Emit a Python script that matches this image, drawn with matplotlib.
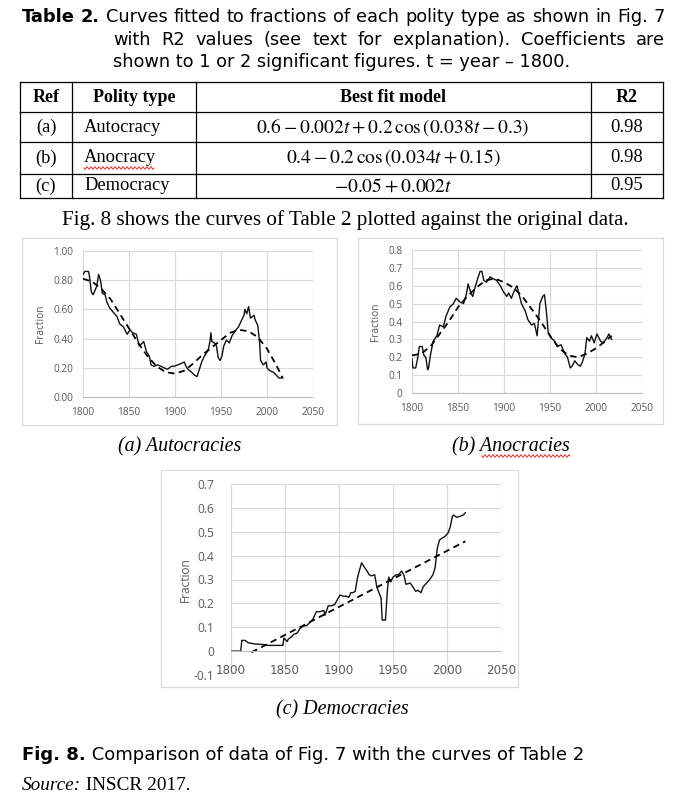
import matplotlib
matplotlib.use("Agg")
import matplotlib.pyplot as plt
from matplotlib.lines import Line2D
from matplotlib.patches import Rectangle
import numpy as np

plt.rcParams['mathtext.fontset'] = 'stix'

W, H = 693, 806

# (a) Autocracies: data and fitted curve
auto_years = [1800, 1802, 1806, 1807, 1809, 1811, 1813, 1815, 1817, 1819, 1821, 1824, 1826, 1829, 1833,
              1837, 1840, 1844, 1848, 1851, 1854, 1858, 1861, 1863, 1866, 1869, 1872, 1874, 1877, 1881,
              1885, 1888, 1892, 1896, 1899, 1903, 1907, 1910, 1912, 1914, 1918, 1921, 1924, 1927, 1929,
              1932, 1936, 1938, 1939, 1940, 1943, 1945, 1947, 1949, 1951, 1953, 1956, 1959, 1962, 1965,
              1969, 1972, 1975, 1976, 1978, 1980, 1982, 1984, 1986, 1987, 1990, 1992, 1993, 1996, 1999,
              2000, 2003, 2007, 2010, 2013, 2017]
auto_frac = [0.84, 0.86, 0.86, 0.83, 0.72, 0.70, 0.73, 0.76, 0.84, 0.80, 0.71, 0.70, 0.65, 0.61, 0.58,
             0.55, 0.50, 0.48, 0.43, 0.46, 0.44, 0.43, 0.35, 0.36, 0.38, 0.31, 0.28, 0.22, 0.21, 0.22,
             0.21, 0.20, 0.19, 0.21, 0.21, 0.22, 0.23, 0.24, 0.21, 0.19, 0.17, 0.15, 0.14, 0.20, 0.24,
             0.28, 0.32, 0.38, 0.44, 0.38, 0.37, 0.35, 0.27, 0.25, 0.28, 0.35, 0.39, 0.37, 0.42, 0.45,
             0.48, 0.52, 0.56, 0.60, 0.57, 0.62, 0.54, 0.55, 0.56, 0.53, 0.49, 0.37, 0.25, 0.22, 0.24,
             0.20, 0.18, 0.17, 0.15, 0.13, 0.13]
auto_fit_years = [1800, 1810, 1820, 1830, 1840, 1850, 1860, 1870, 1880, 1890, 1900, 1910,
                  1920, 1930, 1940, 1950, 1960, 1970, 1980, 1990, 2000, 2010, 2017]
auto_fit = [0.81, 0.79, 0.74, 0.67, 0.57, 0.47, 0.37, 0.28, 0.21, 0.17, 0.16, 0.18,
            0.23, 0.29, 0.34, 0.39, 0.44, 0.46, 0.45, 0.41, 0.33, 0.22, 0.13]

# (b) Anocracies
ano_years = [1800, 1801, 1804, 1806, 1808, 1811, 1813, 1815, 1817, 1818, 1820, 1823, 1827, 1830, 1834,
             1837, 1841, 1845, 1848, 1852, 1856, 1859, 1861, 1864, 1866, 1869, 1872, 1874, 1876, 1878,
             1881, 1885, 1888, 1892, 1896, 1899, 1903, 1905, 1908, 1911, 1914, 1916, 1919, 1923, 1926,
             1930, 1933, 1936, 1937, 1939, 1942, 1944, 1946, 1948, 1951, 1955, 1958, 1962, 1966, 1969,
             1972, 1974, 1977, 1980, 1983, 1985, 1988, 1990, 1993, 1995, 1998, 2001, 2005, 2008, 2012,
             2014, 2017]
ano_frac = [0.19, 0.14, 0.14, 0.19, 0.26, 0.26, 0.21, 0.20, 0.13, 0.14, 0.21, 0.29, 0.32, 0.38, 0.37,
            0.43, 0.48, 0.50, 0.53, 0.51, 0.50, 0.55, 0.61, 0.56, 0.54, 0.60, 0.65, 0.68, 0.68, 0.63,
            0.62, 0.65, 0.64, 0.63, 0.60, 0.57, 0.54, 0.56, 0.53, 0.57, 0.60, 0.56, 0.50, 0.46, 0.41,
            0.38, 0.39, 0.32, 0.38, 0.50, 0.54, 0.55, 0.46, 0.34, 0.31, 0.29, 0.26, 0.27, 0.22, 0.20,
            0.14, 0.15, 0.18, 0.16, 0.15, 0.17, 0.22, 0.31, 0.29, 0.32, 0.28, 0.33, 0.29, 0.28, 0.31,
            0.33, 0.30]
ano_fit_years = [1800, 1810, 1820, 1830, 1840, 1850, 1860, 1870, 1880, 1890, 1900, 1910,
                 1920, 1930, 1940, 1950, 1960, 1970, 1980, 1990, 2000, 2010, 2017]
ano_fit = [0.21, 0.22, 0.26, 0.33, 0.40, 0.48, 0.54, 0.59, 0.63, 0.64, 0.62, 0.59,
           0.54, 0.47, 0.40, 0.32, 0.25, 0.21, 0.20, 0.22, 0.25, 0.29, 0.32]

# (c) Democracies
demo_years = [1800, 1809, 1810, 1813, 1816, 1822, 1829, 1835, 1841, 1848, 1849, 1852, 1853, 1856, 1858,
              1861, 1864, 1867, 1870, 1873, 1876, 1879, 1882, 1886, 1887, 1890, 1893, 1896, 1899, 1901,
              1904, 1907, 1909, 1911, 1913, 1915, 1917, 1919, 1921, 1923, 1926, 1928, 1930, 1933, 1935,
              1937, 1939, 1940, 1943, 1945, 1946, 1948, 1950, 1953, 1955, 1958, 1960, 1962, 1966, 1969,
              1971, 1973, 1976, 1978, 1981, 1984, 1987, 1989, 1991, 1993, 1996, 1998, 2001, 2003, 2005,
              2006, 2009, 2012, 2015, 2017]
demo_frac = [0.0, 0.0, 0.045, 0.045, 0.035, 0.03, 0.028, 0.024, 0.024, 0.024, 0.055, 0.04, 0.05, 0.06, 0.07,
             0.075, 0.095, 0.105, 0.107, 0.12, 0.135, 0.165, 0.165, 0.17, 0.15, 0.19, 0.19, 0.195, 0.22, 0.235,
             0.23, 0.23, 0.225, 0.245, 0.245, 0.25, 0.305, 0.34, 0.37, 0.355, 0.335, 0.32, 0.315, 0.32, 0.27,
             0.245, 0.22, 0.13, 0.13, 0.265, 0.31, 0.29, 0.31, 0.32, 0.32, 0.335, 0.32, 0.28, 0.285, 0.265,
             0.25, 0.255, 0.245, 0.27, 0.285, 0.30, 0.32, 0.35, 0.43, 0.465, 0.475, 0.48, 0.495, 0.52, 0.565,
             0.57, 0.56, 0.565, 0.57, 0.58]
demo_fit_years = [1819, 2017]
demo_fit = [-0.005, 0.46]

# table contents
refs = ['(a)', '(b)', '(c)']
polity_types = ['Autocracy', 'Anocracy', 'Democracy']
models = [r'$0.6-0.002t+0.2\,\cos\left(0.038t-0.3\right)$',
          r'$0.4-0.2\,\cos\left(0.034t+0.15\right)$',
          r'$-0.05+0.002t$']
r2_values = ['0.98', '0.98', '0.95']

fig = plt.figure(figsize=(6.93, 8.06), dpi=100)
renderer = fig.canvas.get_renderer()

SANS = 'DejaVu Sans'
SERIF = 'Liberation Serif'
GRAY = '#595959'
GRID = '#d9d9d9'


def fx(x):
    return x / W


def fy(y):
    return 1 - y / H


def width_of(t):
    return t.get_window_extent(renderer).width


def runs(x, y, parts):
    # place several text pieces one after another on a line (pixel coords)
    items = [fig.text(0, fy(y), s, va='center', **kw) for s, kw in parts]
    for t in items:
        t.set_x(fx(x))
        x += width_of(t)
    return items


def justify(x0, x1, y, words):
    items = [fig.text(0, fy(y), s, va='center', **kw) for s, kw in words]
    widths = [width_of(t) for t in items]
    gap = (x1 - x0 - sum(widths)) / (len(items) - 1)
    x = x0
    for t, w in zip(items, widths):
        t.set_x(fx(x))
        x += w + gap


def line(x0, y0, x1, y1, **kw):
    fig.add_artist(Line2D([fx(x0), fx(x1)], [fy(y0), fy(y1)], transform=fig.transFigure, **kw))


def wavy(x0, x1, y):
    xs = np.arange(x0, x1 + 0.5, 1.0)
    ys = y + 1.3 * np.sin((xs - x0) * np.pi / 2)
    fig.add_artist(Line2D([fx(v) for v in xs], [fy(v) for v in ys], transform=fig.transFigure,
                          color='#e03030', lw=0.7))


# ---- table caption
cap = dict(family=SANS, fontsize=12.8)
capb = dict(family=SANS, fontsize=12.8, fontweight='bold')
line1 = [('Table', capb), ('2.', capb)] + [(w, cap) for w in
         'Curves fitted to fractions of each polity type as shown in Fig. 7'.split()]
justify(22, 665, 17, line1)
justify(113, 665, 40, [(w, cap) for w in
        'with R2 values (see text for explanation). Coefficients are'.split()])
fig.text(fx(113), fy(62), 'shown to 1 or 2 significant figures. t = year \u2013 1800.', va='center', **cap)

# ---- table
tx = [20, 72, 196, 591, 663]
ty = [82, 112, 142, 174, 198]
for y in ty:
    line(tx[0], y, tx[-1], y, color='black', lw=0.9)
for x in tx:
    line(x, ty[0], x, ty[-1], color='black', lw=0.9)

head = dict(family=SERIF, fontsize=13, fontweight='bold', ha='center', va='center')
cell = dict(family=SERIF, fontsize=13.3, va='center')
fig.text(fx(46), fy(97), 'Ref', **head)
fig.text(fx(134), fy(97), 'Polity type', **head)
fig.text(fx(393), fy(97), 'Best fit model', **head)
fig.text(fx(627), fy(97), 'R2', **head)
row_y = [127, 158, 186]
for i in range(3):
    fig.text(fx(46), fy(row_y[i]), refs[i], ha='center', **cell)
    fig.text(fx(84), fy(row_y[i]), polity_types[i], ha='left', **cell)
    fig.text(fx(393), fy(row_y[i]), models[i], ha='center', va='center', fontsize=14)
    fig.text(fx(627), fy(row_y[i]), r2_values[i], ha='center', **cell)
wavy(84, 154, 168)

fig.text(fx(345), fy(220), 'Fig. 8 shows the curves of Table 2 plotted against the original data.',
         ha='center', va='center', family=SERIF, fontsize=15.2)


# ---- charts
def chart(frame, plot, years, vals, fit_years, fit_vals, ylim, yticks, ylabels, size):
    x0, y0, x1, y1 = frame
    fig.add_artist(Rectangle((fx(x0), fy(y1)), fx(x1) - fx(x0), fy(y0) - fy(y1),
                             transform=fig.transFigure, fill=False, edgecolor=GRID, lw=0.9))
    px0, py0, px1, py1 = plot
    ax = fig.add_axes([fx(px0), fy(py1), fx(px1) - fx(px0), fy(py0) - fy(py1)])
    ax.plot(years, vals, color='#111111', lw=1.0)
    ax.plot(fit_years, fit_vals, color='black', lw=1.3, dashes=(3.5, 2.5))
    ax.set_xlim(1800, 2050)
    ax.set_xticks([1800, 1850, 1900, 1950, 2000, 2050])
    ax.set_ylim(*ylim)
    ax.set_yticks(yticks)
    ax.set_yticklabels(ylabels)
    ax.grid(True, color=GRID, lw=0.8)
    ax.set_axisbelow(True)
    for s in ['top', 'right', 'left']:
        ax.spines[s].set_visible(False)
    ax.spines['bottom'].set_color('#bfbfbf')
    ax.tick_params(length=0, labelsize=size, labelcolor=GRAY, pad=7)
    for lab in ax.get_xticklabels() + ax.get_yticklabels():
        lab.set_family('Open Sans')
    ax.set_ylabel('Fraction', fontsize=size, color=GRAY, family='Open Sans', labelpad=5)
    ax.set_facecolor('none')
    return ax


chart((22, 238, 337, 425), (83, 251, 313, 397), auto_years, auto_frac, auto_fit_years, auto_fit,
      (0, 1.0), [0, 0.2, 0.4, 0.6, 0.8, 1.0], ['0.00', '0.20', '0.40', '0.60', '0.80', '1.00'], 7.3)
chart((358, 238, 663, 424), (412, 250, 642, 393), ano_years, ano_frac, ano_fit_years, ano_fit,
      (0, 0.8), [0, 0.1, 0.2, 0.3, 0.4, 0.5, 0.6, 0.7, 0.8],
      ['0', '0.1', '0.2', '0.3', '0.4', '0.5', '0.6', '0.7', '0.8'], 7.3)
axc = chart((161, 470, 518, 687), (231, 484, 501, 675), demo_years, demo_frac, demo_fit_years, demo_fit,
            (-0.1, 0.7), [-0.1, 0, 0.1, 0.2, 0.3, 0.4, 0.5, 0.6, 0.7],
            ['-0.1', '0', '0.1', '0.2', '0.3', '0.4', '0.5', '0.6', '0.7'], 8.6)
axc.spines['bottom'].set_position(('data', 0))
axc.tick_params(axis='x', pad=9)
axc.tick_params(axis='y', pad=12)
axc.yaxis.labelpad = 1

# ---- captions
ital = dict(family=SERIF, fontsize=14.4, style='italic')
fig.text(fx(180), fy(447), '(a) Autocracies', ha='center', va='center', **ital)
fig.text(fx(511), fy(447), '(b) Anocracies', ha='center', va='center', **ital)
wavy(482, 570, 456)
fig.text(fx(342), fy(710), '(c) Democracies', ha='center', va='center', **ital)

runs(22, 755, [('Fig. 8.', dict(family=SANS, fontsize=13, fontweight='bold')),
               (' Comparison of data of Fig. 7 with the curves of Table 2', dict(family=SANS, fontsize=13))])
runs(22, 785, [('Source:', dict(family=SERIF, fontsize=13.9, style='italic')),
               (' INSCR 2017.', dict(family=SERIF, fontsize=13.9))])

fig.savefig('out.png', dpi=100)
